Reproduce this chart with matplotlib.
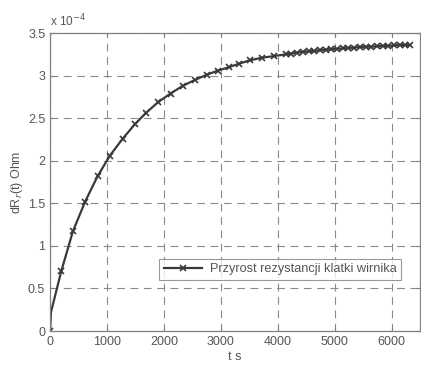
import matplotlib
matplotlib.use("Agg")
import matplotlib.pyplot as plt

plt.rcParams['font.family'] = ['Liberation Sans', 'DejaVu Sans']

# time in seconds
t = [0, 15, 195, 400, 615, 835, 1050, 1275, 1490, 1680, 1900, 2115, 2330, 2545,
     2750, 2950, 3145, 3315, 3510, 3715, 3930, 4140,
     4240, 4340, 4440, 4540, 4640, 4740, 4840, 4940, 5040, 5140, 5240, 5340,
     5440, 5540, 5640, 5740, 5840, 5940, 6040, 6140, 6240, 6320]
# resistance increment in 1e-4 Ohm
dR = [0, 0.22, 0.70, 1.17, 1.52, 1.82, 2.06, 2.26, 2.43, 2.56, 2.69, 2.79, 2.88, 2.95,
      3.01, 3.06, 3.10, 3.14, 3.18, 3.21, 3.23, 3.25,
      3.26, 3.27, 3.28, 3.285, 3.29, 3.30, 3.305, 3.31, 3.315, 3.32, 3.325, 3.33,
      3.335, 3.34, 3.34, 3.345, 3.35, 3.35, 3.355, 3.36, 3.36, 3.36]

xticks = [0, 1000, 2000, 3000, 4000, 5000, 6000]
yticks = [0, 0.5, 1, 1.5, 2, 2.5, 3, 3.5]
ytick_labels = ["0", "0.5", "1", "1.5", "2", "2.5", "3", "3.5"]
legend_label = "Przyrost rezystancji klatki wirnika"

fig = plt.figure(figsize=(4.21, 3.66), dpi=100)
ax = fig.add_axes([0.119, 0.0956, 0.879, 0.814])

line_col = '#3a3a3a'
marks = [0] + list(range(2, len(t)))
ax.plot(t, dR, color=line_col, lw=1.6, marker='x', ms=4.5, mew=1.2,
        markevery=marks, label=legend_label)

ax.set_xlim(0, 6500)
ax.set_ylim(0, 3.5)
ax.set_xticks(xticks)
ax.set_xticklabels([str(v) for v in xticks])
ax.set_yticks(yticks)
ax.set_yticklabels(ytick_labels)

ax.grid(True, linestyle=(0, (7, 5)), color='#8a8a8a', lw=0.8)
for s in ax.spines.values():
    s.set_color('#808080')
    s.set_linewidth(0.9)
ax.tick_params(direction='in', length=3, colors='#808080', labelcolor='#555555',
               labelsize=9, top=True, right=True)

ax.text(0.0, 1.012, r"x 10$^{-4}$", transform=ax.transAxes, fontsize=8.5,
        color='#555555', ha='left', va='bottom')
ax.set_xlabel("t s", fontsize=9, color='#555555', labelpad=2)
ax.set_ylabel(r"dR$_r$(t) Ohm", fontsize=9, color='#555555', labelpad=2)

leg = ax.legend(loc='lower right', bbox_to_anchor=(0.965, 0.15), fontsize=9.2,
                frameon=True, fancybox=False, borderpad=0.35, handlelength=3.0,
                handletextpad=0.6, labelcolor='#555555')
leg.get_frame().set_edgecolor('#808080')
leg.get_frame().set_linewidth(0.8)

fig.savefig("out.png", dpi=100)
